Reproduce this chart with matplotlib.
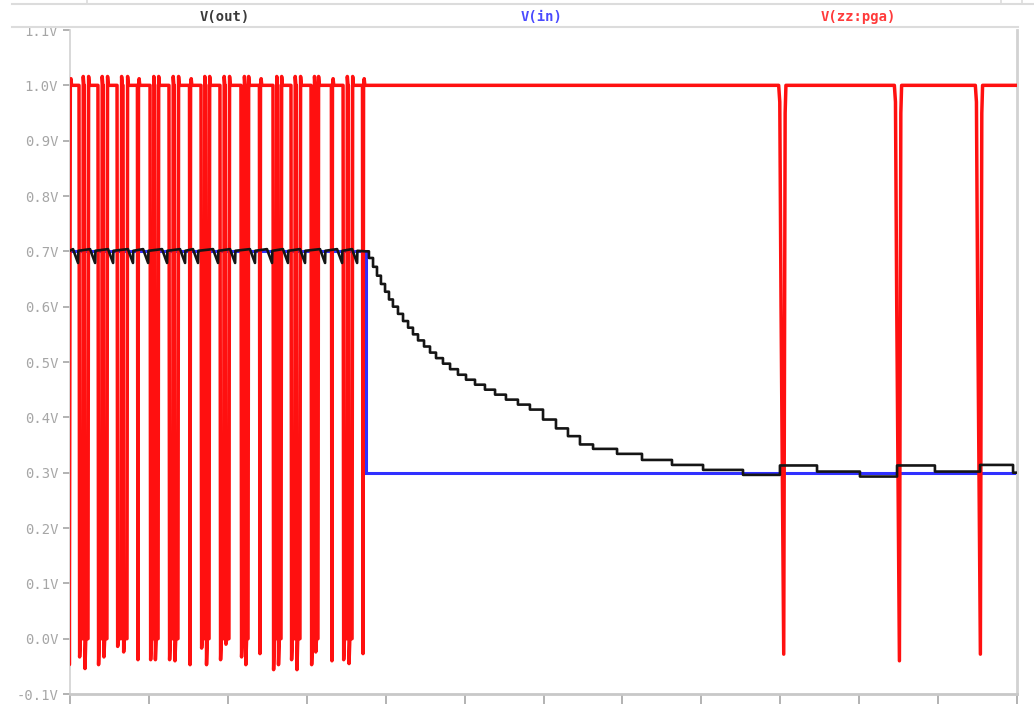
import numpy as np
import matplotlib.pyplot as plt
from matplotlib.lines import Line2D

# time axis in ns
T_MIN, T_MAX = 95.0, 155.0
x_ticks = np.arange(95, 156, 5)
x_tick_labels = [f"{t}ns" for t in x_ticks]
y_ticks = np.round(np.arange(-0.1, 1.11, 0.1), 1)
y_tick_labels = [f"{v:.1f}V" for v in y_ticks]

# V(zz:pga): low pulses as (fall, rise, undershoot)
pga_fall = [94.90, 95.57, 95.91, 96.77, 97.11, 97.98, 98.36, 99.27,
            100.07, 100.37, 101.27, 101.61, 102.57, 103.30, 103.61,
            104.50, 104.84, 105.83, 106.10, 107.00, 107.86, 108.17,
            109.00, 109.34, 110.27, 110.53, 111.56, 112.30, 112.64, 113.53]
pga_rise = [95.02, 95.80, 96.14, 97.00, 97.34, 98.23, 98.61, 99.34,
            100.27, 100.58, 101.50, 101.84, 102.64, 103.50, 103.81,
            104.73, 105.07, 106.01, 106.28, 107.07, 108.06, 108.37,
            109.23, 109.57, 110.45, 110.71, 111.63, 112.53, 112.87, 113.60]
pga_low = [-0.047, -0.033, -0.054, -0.047, -0.033, -0.014, -0.024, -0.038,
           -0.038, -0.038, -0.038, -0.040, -0.047, -0.017, -0.047,
           -0.038, -0.010, -0.033, -0.047, -0.027, -0.056, -0.047,
           -0.038, -0.056, -0.047, -0.024, -0.040, -0.038, -0.045, -0.027]
# later isolated glitches: time of the minimum and its value
glitch_t = [140.22, 147.55, 152.68]
glitch_low = [-0.028, -0.040, -0.028]

# V(in)
vin_t = [94.9, 113.75, 113.75, 155.2]
vin_v = [0.7, 0.7, 0.3, 0.3]

# V(out): droop at each sampling event while holding 0.7 V
out_dip_t = [95.19, 96.27, 97.41, 98.67, 99.63, 100.83, 101.97, 102.79,
             104.06, 105.14, 106.40, 107.48, 108.49, 109.57, 110.84,
             111.92, 112.87]
# V(out): staircase settling towards 0.3 V
out_step_t = [113.69, 113.94, 114.20, 114.45, 114.70, 114.96, 115.21, 115.46,
              115.78, 116.10, 116.42, 116.73, 117.05, 117.43, 117.81, 118.19,
              118.63, 119.08, 119.58, 120.09, 120.66, 121.29, 121.93, 122.62,
              123.38, 124.14, 124.97, 125.79, 126.55, 127.31, 128.14, 129.66,
              131.24, 133.14, 135.11, 137.64, 139.98, 142.33, 145.05, 147.40,
              149.80, 152.66, 154.75]
out_step_v = [0.700, 0.688, 0.672, 0.656, 0.641, 0.627, 0.613, 0.600,
              0.587, 0.574, 0.562, 0.550, 0.539, 0.528, 0.517, 0.507,
              0.497, 0.487, 0.477, 0.468, 0.459, 0.450, 0.441, 0.432,
              0.423, 0.414, 0.396, 0.380, 0.366, 0.351, 0.343, 0.334,
              0.323, 0.314, 0.305, 0.296, 0.313, 0.302, 0.293, 0.313,
              0.302, 0.314, 0.300]


def build_pga():
    t, v = [], []
    for a, b, lo in zip(pga_fall, pga_rise, pga_low):
        if b - a > 0.15:
            t += [a, a + 0.04, a + 0.09, b, b + 0.04, b + 0.08]
            v += [1.0, lo, 0.0, 0.0, 1.016, 1.0]
        else:
            t += [a, 0.5 * (a + b), b, b + 0.04, b + 0.08]
            v += [1.0, lo, 1.0, 1.012, 1.0]
    for tb, lo in zip(glitch_t, glitch_low):
        t += [tb - 0.32, tb - 0.25, tb - 0.17, tb, tb + 0.09, tb + 0.14]
        v += [1.0, 0.97, 0.6, lo, 0.95, 1.0]
    t.append(155.2)
    v.append(1.0)
    return np.array(t), np.array(v)


def build_out():
    t, v = [94.9], [0.70]
    for d in out_dip_t:
        t += [d, d + 0.32, d + 0.34]
        v += [0.704, 0.679, 0.701]
    st = np.array(out_step_t)
    sv = np.array(out_step_v)
    t += list(np.repeat(st, 2)[1:]) + [155.2]
    v += list(np.repeat(sv, 2)[:-1]) + [sv[-1]]
    return np.array(t), np.array(v)


pga_t, pga_v = build_pga()
out_t, out_v = build_out()

mono = "DejaVu Sans Mono"
grey = "#a6a6a6"
spine_grey = "#d2d2d2"

fig = plt.figure(figsize=(10.34, 7.13), dpi=100)
ax = fig.add_axes([70 / 1034, 19 / 713, 947 / 1034, 664 / 713])

ax.plot(vin_t, vin_v, color="#3030ff", lw=2.2, zorder=2, solid_joinstyle="miter")
ax.plot(pga_t, pga_v, color="#ff1010", lw=2.5, zorder=3)
ax.plot(out_t, out_v, color="#151515", lw=1.9, zorder=4)

ax.set_xlim(T_MIN, T_MAX)
ax.set_ylim(-0.1, 1.1)
ax.set_xticks(x_ticks)
ax.set_xticklabels(x_tick_labels)
ax.set_yticks(y_ticks)
ax.set_yticklabels(y_tick_labels)
ax.tick_params(axis="both", colors=grey, labelcolor=grey, labelsize=10,
               length=5, width=1.2)
ax.tick_params(axis="x", length=7, pad=6)
for lab in ax.get_xticklabels() + ax.get_yticklabels():
    lab.set_family(mono)

ax.spines["top"].set_visible(False)
ax.spines["left"].set_color(spine_grey)
ax.spines["left"].set_linewidth(1.2)
ax.spines["right"].set_color(spine_grey)
ax.spines["right"].set_linewidth(2.0)
ax.spines["bottom"].set_color("#c8c8c8")
ax.spines["bottom"].set_linewidth(2.0)

# header strip with the trace names
W, H = 1034, 713
fig.add_artist(Line2D([12 / W, 1018 / W], [1 - 27 / H, 1 - 27 / H],
                      color="#dcdcdc", lw=1.5))
fig.add_artist(Line2D([12 / W, 1.0], [1 - 4 / H, 1 - 4 / H],
                      color="#dcdcdc", lw=1.5))
fig.add_artist(Line2D([87 / W, 87 / W], [1 - 4 / H, 1.0], color="#dcdcdc", lw=1.2))
fig.add_artist(Line2D([1001 / W, 1001 / W], [1 - 4 / H, 1.0], color="#dcdcdc", lw=1.2))
fig.add_artist(Line2D([1022 / W, 1022 / W], [1 - 4 / H, 1.0], color="#dcdcdc", lw=1.2))

fig.text(225 / W, 1 - 17 / H, "V(out)", color="#3a3a3a", family=mono,
         fontsize=10, fontweight="bold", ha="center", va="center")
fig.text(542 / W, 1 - 17 / H, "V(in)", color="#4a4aff", family=mono,
         fontsize=10, fontweight="bold", ha="center", va="center")
fig.text(858 / W, 1 - 17 / H, "V(zz:pga)", color="#ff3a3a", family=mono,
         fontsize=10, fontweight="bold", ha="center", va="center")

fig.savefig("out.png", dpi=100, facecolor="white")
